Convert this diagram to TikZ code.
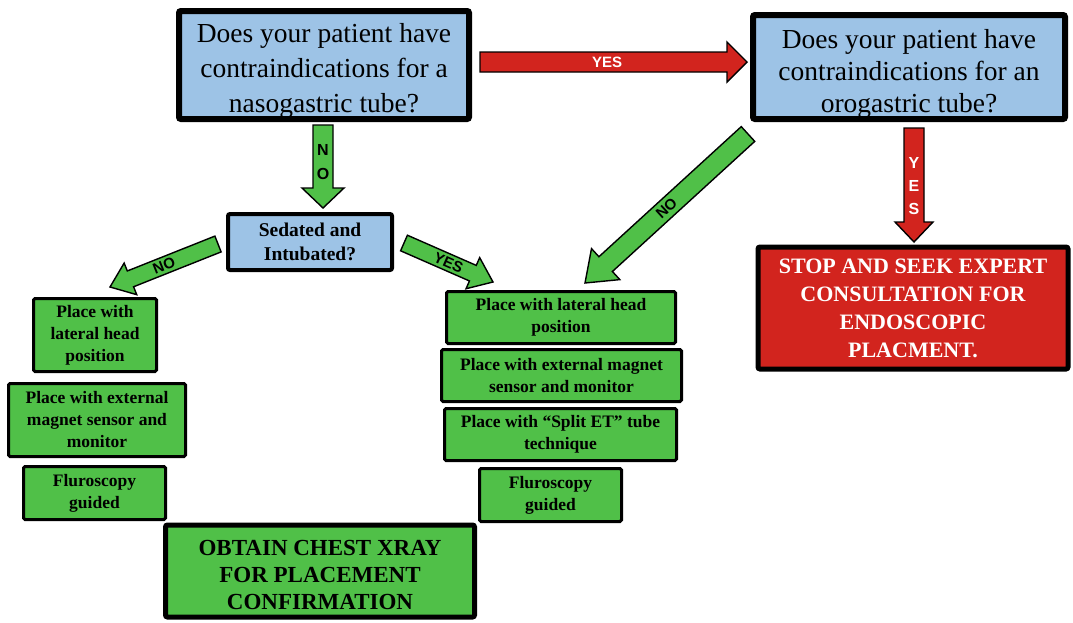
\documentclass[tikz,border=0pt]{standalone}
\usepackage{fontspec}
\setmainfont{Liberation Serif}
\newfontfamily\lsans{Liberation Sans}
\usetikzlibrary{calc}
\definecolor{qblue}{RGB}{157,195,230}
\definecolor{bgreen}{RGB}{80,192,72}
\definecolor{bred}{RGB}{210,36,30}
\newcommand\myblockarrow[6]{%
  \coordinate (bac) at ($(#3)!#6!(#2)$);
  \draw[#1] ($(#2)!#4!90:(#3)$) -- ($(bac)!#4!90:(#3)$) -- ($(bac)!#5!90:(#3)$) -- (#3)
    -- ($(bac)!#5!-90:(#3)$) -- ($(bac)!#4!-90:(#3)$) -- ($(#2)!#4!-90:(#3)$) -- cycle;}
\tikzset{
  qbox/.style={draw=black, line width=6pt, fill=qblue, rounded corners=2pt, align=center, inner sep=0pt},
  gbox/.style={draw=black, line width=3pt, fill=bgreen, rounded corners=1.5pt, align=center, inner sep=0pt,
    font=\bfseries\fontsize{17.5}{22}\selectfont},
  garrow/.style={draw=black, line width=1.4pt, fill=bgreen, line join=miter},
  rarrow/.style={draw=black, line width=1.4pt, fill=bred, line join=miter},
  alabel/.style={font=\lsans\bfseries\fontsize{15}{18}\selectfont, inner sep=0pt},
}
\begin{document}
\begin{tikzpicture}[x=1pt,y=-1pt]
\useasboundingbox (0,0) rectangle (1073,622);
\fill[white] (0,0) rectangle (1073,622);

% question boxes
\node[qbox, minimum width=290pt, minimum height=108pt, font=\fontsize{27.5}{35}\selectfont] (q1) at (324,65)
  {\rule{0pt}{30pt}Does your patient have\\contraindications for a\\nasogastric tube?};
\node[qbox, minimum width=312pt, minimum height=104pt, font=\fontsize{27.5}{32}\selectfont] (q2) at (909,67)
  {\rule{0pt}{32pt}Does your patient have\\contraindications for an\\orogastric tube?};
\node[qbox, line width=4pt, minimum width=164pt, minimum height=56pt, font=\bfseries\fontsize{19.5}{24}\selectfont] (sed) at (310,242)
  {Sedated and\\Intubated?};

% stop box
\node[draw=black, line width=5pt, fill=bred, rounded corners=2pt, align=center, inner sep=0pt,
  minimum width=310pt, minimum height=122pt, text=white, font=\bfseries\fontsize{22}{28}\selectfont] (stop) at (913,308)
  {STOP AND SEEK EXPERT\\CONSULTATION FOR\\ENDOSCOPIC\\PLACMENT.};

% left stack
\node[gbox, minimum width=123pt, minimum height=73pt] (l1) at (95,335) {Place with\\lateral head\\position};
\node[gbox, minimum width=177pt, minimum height=73pt] (l2) at (97,420) {Place with external\\magnet sensor and\\monitor};
\node[gbox, minimum width=142pt, minimum height=53pt] (l3) at (94.5,493) {Fluroscopy\\guided};

% right stack
\node[gbox, minimum width=229pt, minimum height=52pt] (r1) at (561,317.5) {Place with lateral head\\position};
\node[gbox, minimum width=240pt, minimum height=52pt] (r2) at (561.5,375.5) {Place with external magnet\\sensor and monitor};
\node[gbox, minimum width=232pt, minimum height=52pt] (r3) at (560.5,434.5) {Place with ``Split ET'' tube\\technique};
\node[gbox, minimum width=142pt, minimum height=53pt] (r4) at (550.5,495) {Fluroscopy\\guided};

% bottom box
\node[draw=black, line width=5pt, fill=bgreen, rounded corners=2pt, align=center, inner sep=0pt,
  minimum width=309pt, minimum height=92pt, font=\bfseries\fontsize{23}{27}\selectfont] (xray) at (320,571)
  {\rule{0pt}{24pt}OBTAIN CHEST XRAY\\FOR PLACEMENT\\CONFIRMATION};

% connectors
\coordinate (a1s) at (480,62);  \coordinate (a1e) at (747,62);
\myblockarrow{rarrow}{a1s}{a1e}{10pt}{20pt}{20pt}
\node[alabel, text=white] (lyes1) at (607,62) {YES};

\coordinate (a2s) at (323,125); \coordinate (a2e) at (323,208);
\myblockarrow{garrow}{a2s}{a2e}{10pt}{21pt}{20pt}
\node[alabel, align=center, font=\lsans\bfseries\fontsize{16}{24}\selectfont] (lno1) at (323,162) {N\\O};

\coordinate (a3s) at (218,244); \coordinate (a3e) at (110,287);
\myblockarrow{garrow}{a3s}{a3e}{8.5pt}{17pt}{22pt}
\path (a3s) -- (a3e) node[pos=0.5, sloped, alabel, font=\lsans\bfseries\fontsize{15}{18}\selectfont] (lno2) {NO};

\coordinate (a4s) at (404,243); \coordinate (a4e) at (493,282);
\myblockarrow{garrow}{a4s}{a4e}{8.5pt}{17pt}{22pt}
\path (a4s) -- (a4e) node[pos=0.5, sloped, alabel, font=\lsans\bfseries\fontsize{15}{18}\selectfont] (lyes3) {YES};

\coordinate (a5s) at (748,134); \coordinate (a5e) at (585,283);
\myblockarrow{garrow}{a5s}{a5e}{10pt}{21pt}{28pt}
\path (a5s) -- (a5e) node[pos=0.5, sloped, alabel, font=\lsans\bfseries\fontsize{15}{18}\selectfont] (lno3) {NO};

\coordinate (a6s) at (914,128); \coordinate (a6e) at (914,242);
\myblockarrow{rarrow}{a6s}{a6e}{10pt}{19pt}{20pt}
\node[alabel, align=center, text=white, font=\lsans\bfseries\fontsize{16}{23}\selectfont] (lyes2) at (914,186) {Y\\E\\S};
\end{tikzpicture}
\end{document}
